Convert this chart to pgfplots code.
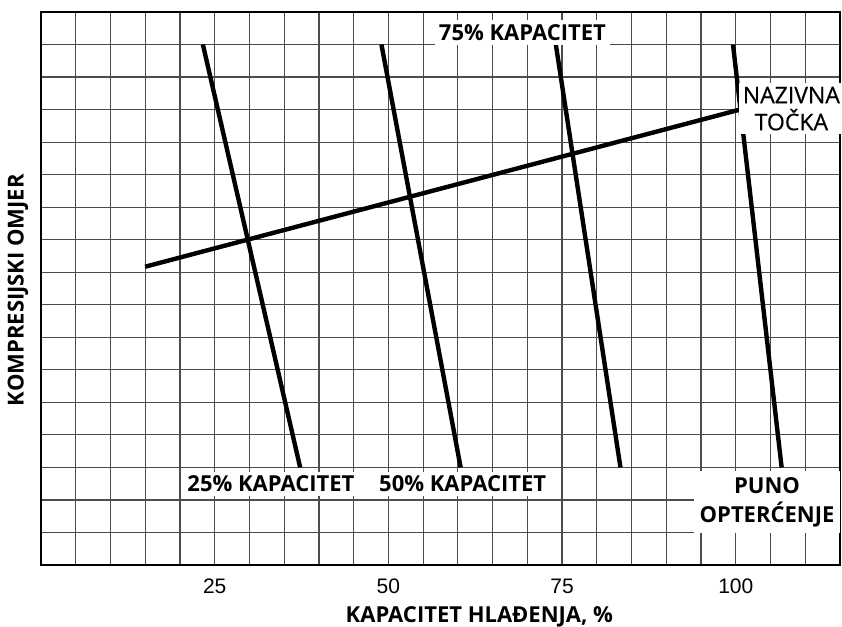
\documentclass[border=0pt]{standalone}
\usepackage{fontspec}
\setmainfont{Open Sans}
\newfontfamily\tickfont{Liberation Sans}
\newfontfamily\semifont[FakeBold=0.5]{Open Sans}
\usepackage{pgfplots}
\pgfplotsset{compat=1.18}
\begin{document}
\begin{tikzpicture}
\begin{axis}[
 at={(0,0)}, anchor=south west,
 scale only axis, width=399.5pt, height=276.5pt,
 xmin=0, xmax=115, ymin=0, ymax=17,
 xtick={25,50,75,100}, minor xtick={0,5,...,115},
 ytick={0,1,...,17}, yticklabels={},
 grid=both,
 major tick length=0pt, minor tick length=0pt,
 grid style={black!70, line width=0.6pt},
 minor grid style={black!70, line width=0.6pt},
 major grid style={black!70, line width=0.6pt},
 axis line style={line width=1.2pt},
 tick label style={font=\tickfont\fontsize{10.5}{12}\selectfont},
 xticklabel style={yshift=-3.5pt},
 /pgf/number format/assume math mode=true,
 clip=false,
]
\addplot[line width=2.2pt] coordinates {(23.3,16) (37.3,3)};
\addplot[line width=2.2pt] coordinates {(49.0,16) (60.4,3)};
\addplot[line width=2.2pt] coordinates {(74.1,16) (83.4,3)};
\addplot[line width=2.2pt] coordinates {(99.6,16) (106.6,3)};
\addplot[line width=2.2pt] coordinates {(15.0,9.17) (100.6,14.0)};
\node[fill=white, inner sep=2pt, font=\bfseries\fontsize{11}{13.5}\selectfont] at (axis cs:69.3,16.37) {75\% KAPACITET};
\node[fill=white, inner sep=2pt, align=center, font=\semifont\fontsize{11.5}{13.5}\selectfont] at (axis cs:108.0,14.03) {NAZIVNA\\TOČKA};
\node[fill=white, inner sep=2pt, font=\bfseries\fontsize{11}{13.5}\selectfont] at (axis cs:33.1,2.49) {25\% KAPACITET};
\node[fill=white, inner sep=2pt, font=\bfseries\fontsize{11}{13.5}\selectfont] at (axis cs:60.7,2.49) {50\% KAPACITET};
\node[fill=white, inner sep=3pt, align=center, font=\bfseries\fontsize{11}{14.5}\selectfont] at (axis cs:104.5,1.94) {PUNO\\OPTERĆENJE};
\node[font=\bfseries\fontsize{11}{13.5}\selectfont, yshift=-26pt] at (axis cs:63.1,0) {KAPACITET HLAĐENJA, \%};
\node[font=\bfseries\fontsize{11}{13.5}\selectfont, xshift=-11.5pt, rotate=90] at (axis cs:0,8.45) {KOMPRESIJSKI OMJER};
\end{axis}
\pgfresetboundingbox
\path (-20.5pt,-31pt) rectangle (400.5pt,282.5pt);
\end{tikzpicture}
\end{document}
